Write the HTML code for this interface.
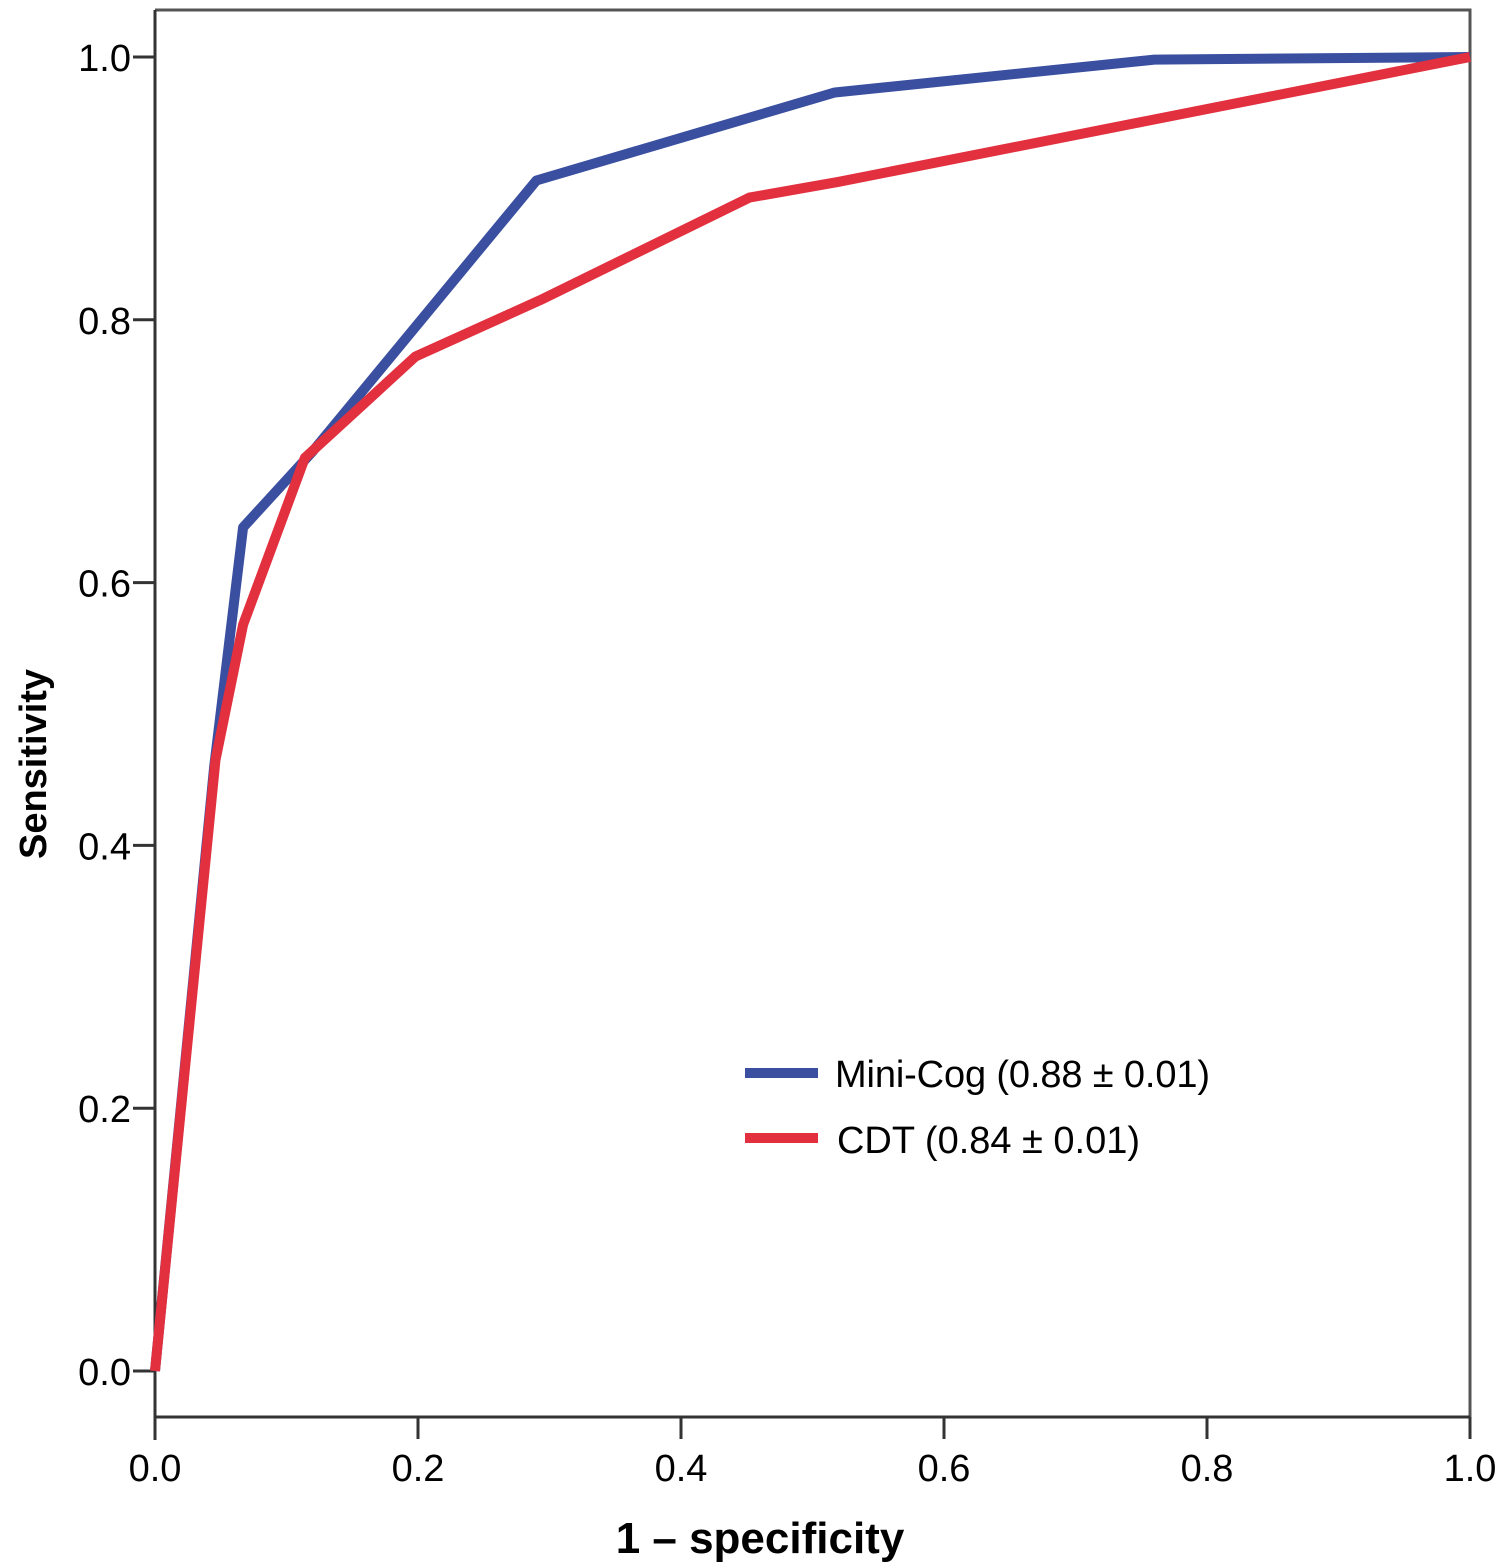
<!DOCTYPE html>
<html><head><meta charset="utf-8"><style>body{margin:0;background:#fff}svg{display:block}</style></head>
<body>
<svg id="chart" width="1500" height="1568" viewBox="0 0 1500 1568" font-family="Liberation Sans, sans-serif">
<rect x="0" y="0" width="1500" height="1568" fill="#fff"/>
<g id="axes"></g>
<g id="series"></g>
<g>
<line x1="745" y1="1073" x2="818" y2="1073" stroke="#3a4fa0" stroke-width="10"/>
<text x="835" y="1087" font-size="38" textLength="375">Mini-Cog (0.88 ± 0.01)</text>
<line x1="745" y1="1138" x2="818" y2="1138" stroke="#e2303f" stroke-width="10"/>
<text x="837" y="1153" font-size="38" textLength="303">CDT (0.84 ± 0.01)</text>
</g>
<text x="760" y="1553" font-size="44" font-weight="bold" text-anchor="middle">1 – specificity</text>
<text transform="translate(46,764) rotate(-90)" font-size="38" font-weight="bold" text-anchor="middle">Sensitivity</text>
</svg>
<script>
const xTicks=[0,0.2,0.4,0.6,0.8,1.0];
const yTicks=[0,0.2,0.4,0.6,0.8,1.0];
const miniCogX=[0,0.045,0.067,0.12,0.29,0.517,0.76,1];
const miniCogY=[0,0.46,0.642,0.70,0.906,0.973,0.998,1];
const cdtX=[0,0.046,0.067,0.114,0.198,0.293,0.452,0.52,1];
const cdtY=[0,0.465,0.568,0.695,0.772,0.815,0.893,0.905,1];
const X0=155,X1=1470,Y0=1371,Y1=57;
function sx(v){return X0+(X1-X0)*v;}
function sy(v){return Y0-(Y0-Y1)*v;}
const NS='http://www.w3.org/2000/svg';
const axes=document.getElementById('axes');
const ser=document.getElementById('series');
function mk(tag,attrs,parent){const e=document.createElementNS(NS,tag);for(const k in attrs)e.setAttribute(k,attrs[k]);parent.appendChild(e);return e;}
let f=mk('path',{d:'M155 10 H1470 V1417',fill:'none',stroke:'#555','stroke-width':3},axes);


let ya=mk('line',{x1:155,y1:10,x2:155,y2:1440,stroke:'#333','stroke-width':3},axes);


let xa=mk('line',{x1:155,y1:1417,x2:1470,y2:1417,stroke:'#333','stroke-width':3},axes);


xTicks.forEach(v=>{
 let t=mk('line',{x1:sx(v),y1:1417,x2:sx(v),y2:1439,stroke:'#333','stroke-width':3},axes);
 
 
 let l=mk('text',{x:sx(v),y:1481,'font-size':38,'text-anchor':'middle'},axes);
 l.textContent=v.toFixed(1);
 
 
});
yTicks.forEach(v=>{
 let t=mk('line',{x1:133,y1:sy(v),x2:155,y2:sy(v),stroke:'#333','stroke-width':3},axes);
 
 
 let l=mk('text',{x:131,y:sy(v)+14,'font-size':38,'text-anchor':'end'},axes);
 l.textContent=v.toFixed(1);
 
 
});
function pts(xs,ys){return xs.map((x,i)=>sx(x)+','+sy(ys[i])).join(' ');}
let b=mk('polyline',{points:pts(miniCogX,miniCogY),fill:'none',stroke:'#3a4fa0','stroke-width':10,'stroke-linejoin':'round'},ser);


let r=mk('polyline',{points:pts(cdtX,cdtY),fill:'none',stroke:'#e2303f','stroke-width':10,'stroke-linejoin':'round'},ser);


</script>
</body></html>
